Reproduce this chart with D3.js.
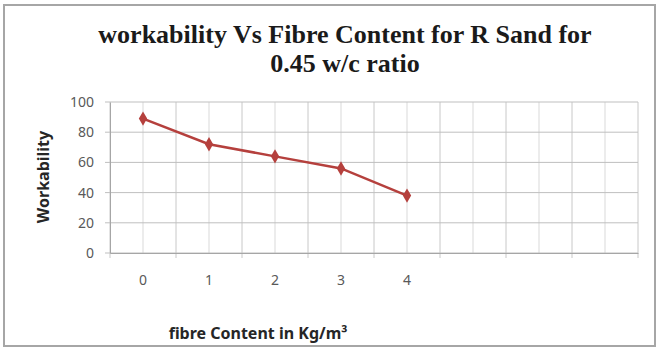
<!DOCTYPE html>
<html>
<head>
<meta charset="utf-8">
<script src="https://cdn.jsdelivr.net/npm/d3@7"></script>
<style>
    body { margin: 0; background: #fff; }
    svg { display: block; }
</style>
</head>
<body>
<div id="chart"></div>
<script>
// data
const fibreContent = ['0', '1', '2', '3', '4', '', '', ''];
const workability = [89, 72, 64, 56, 38];
const yTicks = [0, 20, 40, 60, 80, 100];
const titleLines = ['workability Vs Fibre Content for R Sand for', '0.45 w/c ratio'];

const width = 657;
const height = 350;
const margin = { top: 102, right: 19, bottom: 97, left: 110 };
const innerW = width - margin.left - margin.right;
const innerH = height - margin.top - margin.bottom;

const svg = d3.select('#chart')
    .append('svg')
    .attr('width', width)
    .attr('height', height);

// chart frame
svg.append('rect')
    .attr('x', 4).attr('y', 5)
    .attr('width', 651).attr('height', 341)
    .attr('fill', '#fff')
    .attr('stroke', '#a6a6a6')
    .attr('stroke-width', 2);

// title
svg.append('text')
    .attr('x', 345)
    .attr('y', 43)
    .attr('text-anchor', 'middle')
    .style('font-family', '"Liberation Serif", "Times New Roman", serif')
    .style('font-weight', 'bold')
    .style('font-size', '26px')
    .attr('fill', '#1a1a1a')
    .selectAll('tspan')
    .data(titleLines)
    .enter()
    .append('tspan')
    .attr('x', 345)
    .attr('dy', (d, i) => i === 0 ? 0 : 29)
    .text(d => d);

const g = svg.append('g')
    .attr('transform', `translate(${margin.left},${margin.top})`);

const x = d3.scaleBand()
    .domain(d3.range(fibreContent.length))
    .range([0, innerW]);

const y = d3.scaleLinear()
    .domain([0, 100])
    .range([innerH, 0]);

// minor vertical gridlines at category centres
g.selectAll('.minor-grid')
    .data(d3.range(fibreContent.length))
    .enter()
    .append('line')
    .attr('x1', d => x(d) + x.bandwidth() / 2)
    .attr('x2', d => x(d) + x.bandwidth() / 2)
    .attr('y1', 0).attr('y2', innerH)
    .attr('stroke', '#d9d9d9')
    .attr('stroke-width', 1);

// major vertical gridlines at category edges
g.selectAll('.major-vgrid')
    .data(d3.range(fibreContent.length + 1))
    .enter()
    .append('line')
    .attr('x1', d => d * x.step())
    .attr('x2', d => d * x.step())
    .attr('y1', 0).attr('y2', innerH + 5)
    .attr('stroke', '#c8c8c8')
    .attr('stroke-width', 1);

// horizontal gridlines
g.selectAll('.hgrid')
    .data(yTicks)
    .enter()
    .append('line')
    .attr('x1', -5).attr('x2', innerW)
    .attr('y1', d => y(d)).attr('y2', d => y(d))
    .attr('stroke', '#bfbfbf')
    .attr('stroke-width', 1);

// y axis
const yAxis = g.append('g')
    .call(d3.axisLeft(y).tickValues(yTicks).tickSize(0).tickPadding(16));
yAxis.select('.domain').attr('stroke', '#a6a6a6');
yAxis.selectAll('text')
    .style('font-family', '"Noto Sans", "Open Sans", sans-serif')
    .style('font-size', '14px')
    .attr('fill', '#595959');

// x axis
const xAxis = g.append('g')
    .attr('transform', `translate(0,${innerH})`)
    .call(d3.axisBottom(x).tickFormat(d => fibreContent[d]).tickSize(0).tickPadding(22));
xAxis.select('.domain').attr('stroke', '#a6a6a6');
xAxis.selectAll('text')
    .style('font-family', '"Noto Sans", "Open Sans", sans-serif')
    .style('font-size', '14px')
    .attr('fill', '#595959');

// axis titles
svg.append('text')
    .attr('transform', 'translate(49,177) rotate(-90)')
    .attr('text-anchor', 'middle')
    .style('font-family', '"Noto Sans", "Open Sans", sans-serif')
    .style('font-weight', 'bold')
    .style('font-size', '16px')
    .attr('fill', '#262626')
    .text('Workability');

svg.append('text')
    .attr('x', 258)
    .attr('y', 339)
    .attr('text-anchor', 'middle')
    .style('font-family', '"Noto Sans", "Open Sans", sans-serif')
    .style('font-weight', 'bold')
    .style('font-size', '16px')
    .attr('fill', '#262626')
    .text('fibre Content in Kg/m³');

// series
const line = d3.line()
    .x((d, i) => x(i) + x.bandwidth() / 2)
    .y(d => y(d));

g.append('path')
    .datum(workability)
    .attr('d', line)
    .attr('fill', 'none')
    .attr('stroke', '#b5403d')
    .attr('stroke-width', 2.5);

g.selectAll('.marker')
    .data(workability)
    .enter()
    .append('path')
    .attr('d', d3.symbol().type(d3.symbolDiamond).size(60))
    .attr('transform', (d, i) => `translate(${x(i) + x.bandwidth() / 2},${y(d)})`)
    .attr('fill', '#b5403d');
</script>
</body>
</html>
